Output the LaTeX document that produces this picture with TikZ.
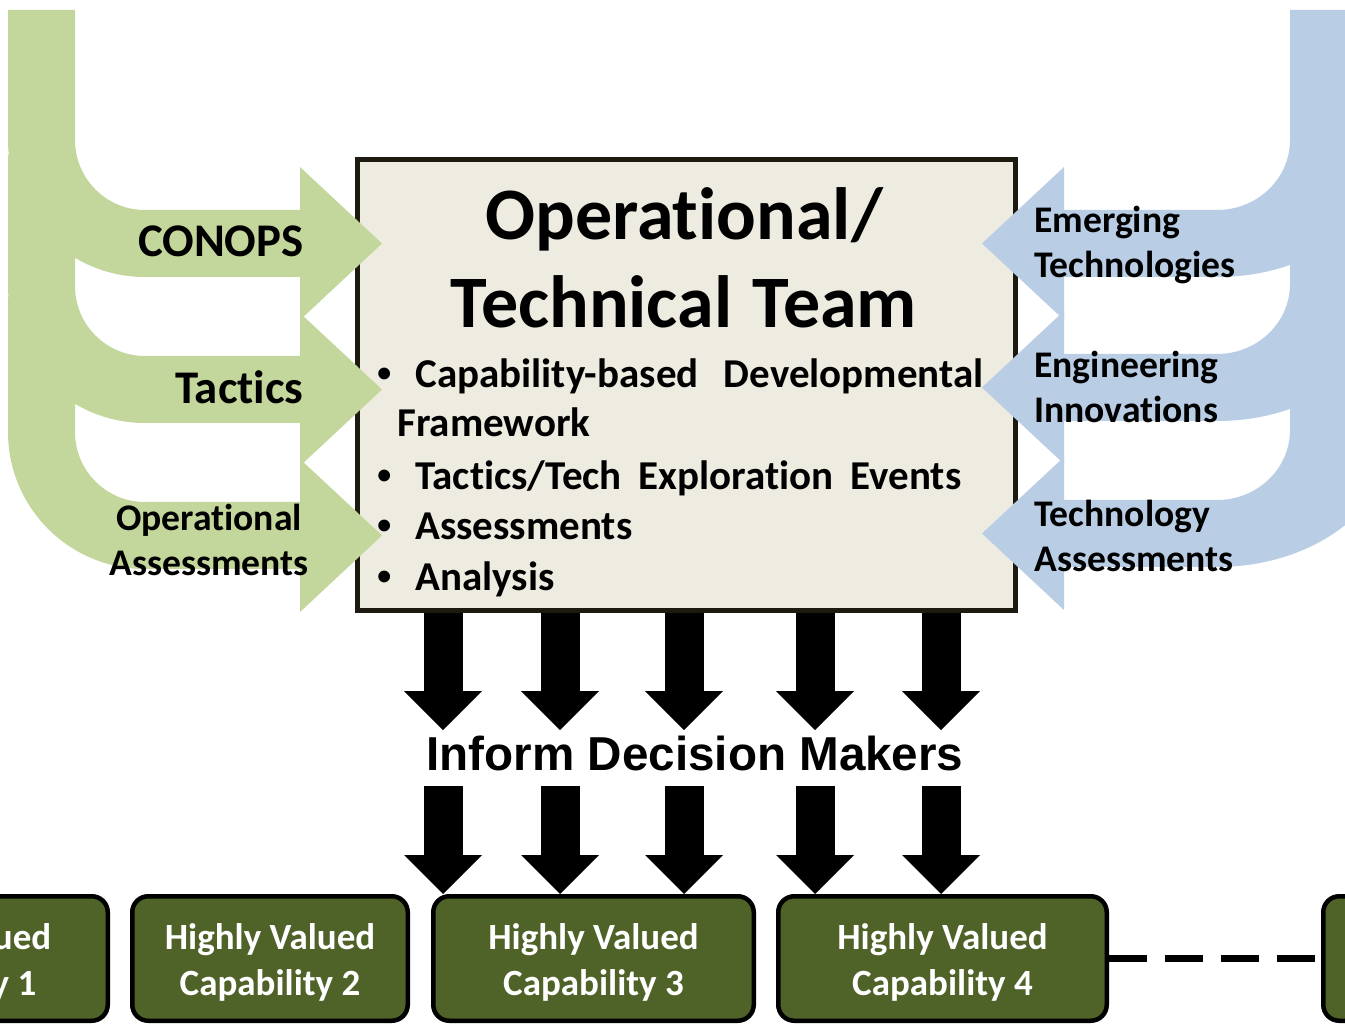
\documentclass[tikz,border=0pt]{standalone}
\usepackage{fontspec}
\setmainfont[Ligatures = NoCommon]{Carlito}
\newfontfamily\arialfont{Liberation Sans}
\usepackage{xcolor}
\usetikzlibrary{arrows.meta}
\definecolor{convgreen}{HTML}{C3D69B}
\definecolor{techblue}{HTML}{B9CDE5}
\definecolor{teamfill}{HTML}{EEECE1}
\definecolor{teamline}{HTML}{1D1B10}
\definecolor{hvcgreen}{HTML}{4F6228}
\newcommand{\itembullet}{\makebox[19pt][l]{\arialfont\textbullet}}
\newcommand{\hvctext}[1]{\raisebox{-2.5pt}[\height][\depth]{\begin{tabular}{@{}c@{}}Highly Valued\\Capability #1\end{tabular}}}
\tikzset{
    greenarrow/.style = {fill = convgreen},
    bluearrow/.style = {fill = techblue},
    teambox/.style = {draw = teamline, fill = teamfill, line width = 2.5pt, minimum width = 329pt, minimum height = 225.5pt, inner sep = 0pt},
    titleline/.style = {font = \bfseries\fontsize{37}{44}\selectfont, anchor = base, inner sep = 0pt},
    itemline/.style = {font = \bfseries\fontsize{20.5}{25}\selectfont, anchor = base west, inner sep = 0pt},
    inlabel/.style = {font = \bfseries\fontsize{23.4}{28}\selectfont, anchor = east, inner sep = 0pt},
    sidelabel/.style = {font = \bfseries\fontsize{18.8}{22.5}\selectfont, inner sep = 0pt},
    informtext/.style = {font = \arialfont\bfseries\fontsize{23.8}{28}\selectfont, anchor = base, inner sep = 0pt},
    hvc/.style = {draw = black, fill = hvcgreen, line width = 2.25pt, rounded corners = 8pt, minimum height = 62.25pt, inner sep = 0pt, text = white, font = \bfseries\fontsize{18.5}{23}\selectfont},
    blockarrow/.style = {line width = 19.5pt, -{Triangle[width = 39pt, length = 19.5pt, line width = 0pt]}},
    dashline/.style = {line width = 3.5pt, dash pattern = on 19pt off 9pt}
}
\begin{document}
\begin{tikzpicture}[x = 0.5pt, y = -0.5pt]
        \useasboundingbox (0, 0) rectangle (1345, 1026);
        \clip (0, 0) rectangle (1345, 1026);

        \node[teambox] (team) at (686.5, 385) {};

        \foreach \s/\t in {10/210, 155/356, 297/502}
            \fill[greenarrow] (8, \s) -- (75, \s) -- (75, \t-70) .. controls (75, \t-31.3) and (106.3, \t) .. (145, \t) -- (300, \t) -- (300, \t-43) -- (382, \t+33.5) -- (300, \t+110) -- (300, \t+67) -- (145, \t+67) .. controls (69.3, \t+67) and (8, \t+5.7) .. (8, \t-70) -- cycle;
        \foreach \s/\t in {10/210, 155/354, 297/500}
            \fill[bluearrow] (1290, \s) -- (1395, \s) -- (1395, \t-70) .. controls (1395, \t+5.7) and (1315.3, \t+67) .. (1217, \t+67) -- (1064, \t+67) -- (1064, \t+110) -- (982, \t+33.5) -- (1064, \t-43) -- (1064, \t) -- (1217, \t) .. controls (1257.3, \t) and (1290, \t-31.3) .. (1290, \t-70) -- cycle;

        \node[inlabel] (conops) at (304, 241) {CONOPS};
        \node[inlabel] (tactics) at (304, 387) {Tactics};
        \node[sidelabel, align = center] (opassess) at (209, 540) {Operational\\Assessments};
        \node[sidelabel, align = left, anchor = west] (emerging) at (1034, 245) {Emerging\\Technologies};
        \node[sidelabel, align = left, anchor = west] (engineering) at (1034, 387) {Engineering\\Innovations};
        \node[sidelabel, align = left, anchor = west] (techassess) at (1034, 536) {Technology\\Assessments};

        \node[titleline] (title1) at (684, 240) {Operational/};
        \node[titleline] (title2) at (684, 328) {Technical\hspace{0.28em}Team};
        \node[itemline] (item1) at (377, 388) {\itembullet\makebox[284pt][s]{Capability-based Developmental}};
        \node[itemline] (item1b) at (397, 437) {Framework};
        \node[itemline] (item2) at (377, 490) {\itembullet\makebox[273pt][s]{Tactics/Tech Exploration Events}};
        \node[itemline] (item3) at (377, 540) {\itembullet Assessments};
        \node[itemline] (item4) at (377, 591) {\itembullet Analysis};

        \node[informtext] (inform) at (695, 770) {Inform Decision Makers};

        \node[hvc, minimum width = 161.75pt] (hvc1) at (-54, 958.5) {\hvctext{1}};
        \node[hvc, minimum width = 137.75pt] (hvc2) at (270, 958.5) {\hvctext{2}};
        \node[hvc, minimum width = 160.25pt] (hvc3) at (593.5, 958.5) {\hvctext{3}};
        \node[hvc, minimum width = 164.25pt] (hvc4) at (942.5, 958.5) {\hvctext{4}};
        \node[hvc, minimum width = 162.75pt] (hvc5) at (1486, 958.5) {};
        \draw[dashline] (hvc4.east) -- (hvc5.west);

        \foreach \x [count = \i] in {443, 560, 684, 815, 941} {
            \coordinate (col\i) at (\x, 0);
            \draw[blockarrow, shorten > = 2.5pt] (team.south -| col\i) -- (inform.north -| col\i);
            \draw[blockarrow, shorten < = 7.5pt] (inform.south -| col\i) -- (hvc3.north -| col\i);
        }
\end{tikzpicture}
\end{document}
